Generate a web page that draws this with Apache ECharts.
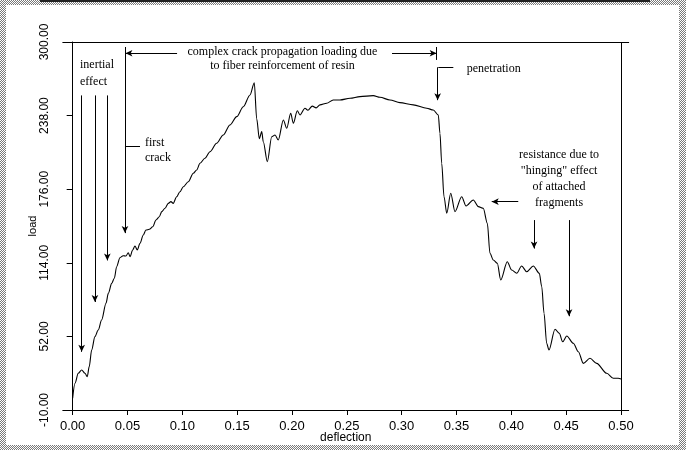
<!DOCTYPE html>
<html>
<head>
<meta charset="utf-8">
<script src="https://cdn.jsdelivr.net/npm/echarts@6/dist/echarts.min.js"></script>
<style>
  html, body { margin: 0; padding: 0; background: #fff; }
  #frame { position: absolute; left: 0; top: 0; width: 686px; height: 450px;
    background: repeating-conic-gradient(#7a7a7a 0 25%, #ffffff 0 50%) 0 0 / 2px 2px; }
  #inner { position: absolute; left: 6px; top: 5px; right: 7px; bottom: 5px; background: #fff; }
  #topline { position: absolute; left: 40px; top: 0; width: 610px; height: 2px; background: #222; }
  #chart { position: absolute; left: 0; top: 0; width: 686px; height: 450px; }
</style>
</head>
<body>
<div id="frame"><div id="inner"></div><div id="topline"></div></div>
<div id="chart"></div>
<script>
// ---- data ----
const deflection = [0,0.0021,0.0051,0.0082,0.0112,0.0133,0.0151,0.0173,0.0203,0.0233,0.0264,0.0304,0.0325,0.0356,0.0380,0.0401,0.0431,0.0461,0.0486,0.0507,0.0523,0.0547,0.0568,0.0589,0.0614,0.0644,0.0668,0.0699,0.0730,0.0760,0.0790,0.0812,0.0842,0.0872,0.0896,0.0917,0.0948,0.0978,0.1009,0.1054,0.1100,0.1131,0.1161,0.1206,0.1252,0.1313,0.1373,0.1434,0.1496,0.1556,0.1617,0.1656,0.1678,0.1702,0.1724,0.1738,0.1775,0.1815,0.1845,0.1875,0.1921,0.1952,0.1988,0.2012,0.2048,0.2073,0.2118,0.2145,0.2185,0.2220,0.2255,0.2316,0.2376,0.2437,0.2529,0.2620,0.2741,0.2802,0.2893,0.2984,0.3106,0.3228,0.3288,0.3334,0.3349,0.3365,0.3386,0.3411,0.3447,0.3486,0.3547,0.3587,0.3653,0.3699,0.3744,0.3781,0.3805,0.3835,0.3872,0.3903,0.3963,0.4003,0.4049,0.4094,0.4140,0.4200,0.4255,0.4277,0.4298,0.4322,0.4343,0.4398,0.4437,0.4468,0.4505,0.4565,0.4611,0.4656,0.4717,0.4778,0.4870,0.4930,0.4975,0.5000];
const loadValues = [0,12.5,20.9,23.7,20.9,18.1,26.5,40.5,51.8,57.4,65.8,79.9,88.3,96.7,101.0,110.7,118.3,120.0,119.7,122.5,119.2,124.8,128.2,124.8,130.4,137.4,141.6,142.2,144.4,150.1,152.8,157.1,159.9,164.1,165.5,164.1,169.7,173.9,178.1,182.3,189.4,192.2,197.8,202.1,207.6,214.7,221.7,230.1,237.1,245.5,255.4,265.7,235.3,218.5,224.5,216.0,199.2,220.2,221.7,217.5,234.3,227.3,240.0,231.5,242.1,238.5,244.2,242.5,246.0,244.5,247.0,248.4,251.2,251.2,252.6,254.0,254.8,253.4,251.2,248.9,247.0,244.2,242.7,238.5,223.1,197.8,169.7,155.7,172.6,157.1,169.7,161.9,166.9,161.3,159.9,147.3,122.0,116.4,113.6,99.5,114.9,107.9,105.2,111.3,106.5,111.3,105.2,93.9,71.5,46.2,40.5,58.0,54.6,47.5,52.3,46.2,39.1,29.3,33.6,29.3,20.9,16.7,16.7,16.1];
const xTicks = [0,0.05,0.10,0.15,0.20,0.25,0.30,0.35,0.40,0.45,0.50];
const yTicks = [-10,52,114,176,238,300];

// ---- annotations (data coordinates) ----
const arrowLines = [ // [x1,y1,x2,y2] arrow head at the second point
  [0.0082,255,0.0082,39],
  [0.0203,255,0.0203,81],
  [0.0316,255,0.0316,116],
  [0.0477,293,0.0477,139],
  [0.0952,290.5,0.0481,290.5],
  [0.2912,290.5,0.3319,290.5],
  [0.3328,278.7,0.3328,251],
  [0.4063,165.5,0.3821,165.5],
  [0.4207,150,0.4207,126],
  [0.4526,150,0.4526,69]
];
const plainLines = [
  [0.0477,212.4,0.0614,212.4],
  [0.3334,278.7,0.3471,278.7],
  [0.3319,295.8,0.3319,284.9],
  [0.0477,295.8,0.0477,284.9]
];
const notes = [
  {x:0.0067, y:273.7, text:'inertial\neffect', align:'left', lh:16.5},
  {x:0.0659, y:208.6, text:'first\ncrack', align:'left', lh:15},
  {x:0.1913, y:285.7, text:'complex crack propagation loading due\nto fiber reinforcement of resin', align:'center', lh:14},
  {x:0.3593, y:277.0, text:'penetration', align:'left', lh:14},
  {x:0.4435, y:184.8, text:'resistance due to\n"hinging" effect\nof attached\nfragments', align:'center', lh:15.9}
];

const black = '#000';
const mlData = [];
arrowLines.forEach(a => mlData.push([{coord:[a[0],a[1]], symbol:'none'},{coord:[a[2],a[3]], symbol:'arrow', symbolSize:[5,7]}]));
plainLines.forEach(a => mlData.push([{coord:[a[0],a[1]], symbol:'none'},{coord:[a[2],a[3]], symbol:'none'}]));

const chart = echarts.init(document.getElementById('chart'), null, {renderer:'canvas'});
const option = {
  animation: false,
  grid: { left: 62.8, right: 57.3, top: 42, bottom: 40, containLabel: false },
  xAxis: [{
    type: 'value', min: -0.009, max: 0.507,
    axisLine: { onZero: false, lineStyle: { color: black, width: 1 } },
    axisTick: { customValues: xTicks, length: 5, lineStyle: { color: black } },
    axisLabel: { customValues: xTicks, formatter: v => v.toFixed(2), color: black,
      fontFamily: 'Liberation Sans, Arial, sans-serif', fontSize: 13, margin: 10 },
    splitLine: { show: false },
    name: 'deflection', nameLocation: 'middle', nameGap: 22, nameMoveOverlap: false,
    nameTextStyle: { color: black, fontFamily: 'Liberation Sans, Arial, sans-serif', fontSize: 12 }
  }, {
    type: 'value', min: -0.009, max: 0.507, position: 'top',
    axisLine: { onZero: false, lineStyle: { color: black, width: 1 } },
    axisTick: { show: false }, axisLabel: { show: false }, splitLine: { show: false }
  }],
  yAxis: {
    type: 'value', min: -10, max: 300,
    axisLine: { show: true, onZero: true, lineStyle: { color: black, width: 1 } },
    axisTick: { show: true, customValues: yTicks, length: 6, lineStyle: { color: black } },
    axisLabel: { customValues: yTicks, rotate: 90, formatter: v => v.toFixed(2), color: black,
      fontFamily: 'Liberation Sans Narrow, Arial Narrow, Liberation Sans, Arial, sans-serif', fontSize: 12, margin: 12.5 },
    splitLine: { show: false },
    name: 'load', nameLocation: 'middle', nameRotate: 90, nameGap: 24, nameMoveOverlap: false,
    nameTextStyle: { color: black, fontFamily: 'Liberation Sans, Arial, sans-serif', fontSize: 11 }
  },
  series: [{
    type: 'line', xAxisIndex: 0,
    data: deflection.map((d, i) => [d, loadValues[i]]),
    showSymbol: false, smooth: 0.3, smoothMonotone: 'x',
    lineStyle: { color: black, width: 1.1 },
    silent: true,
    markLine: {
      silent: true, animation: false,
      label: { show: false },
      lineStyle: { color: black, width: 1, type: 'solid' },
      emphasis: { disabled: true },
      data: mlData
    }
  }, {
    type: 'line', xAxisIndex: 0, data: [], silent: true,
    markLine: {
      silent: true, animation: false, symbol: 'none', label: { show: false },
      lineStyle: { color: black, width: 1, type: 'solid' },
      data: [[{coord:[0.5,-10]},{coord:[0.5,300]}]]
    }
  }]
};
chart.setOption(option);

const graphics = notes.map(n => {
  const p = chart.convertToPixel({xAxisIndex:0, yAxisIndex:0}, [n.x, n.y]);
  return {
    type: 'text', x: p[0], y: p[1], silent: true,
    style: { text: n.text, fill: black, font: '12px "Liberation Serif", "Times New Roman", serif',
      align: n.align, verticalAlign: 'middle', lineHeight: n.lh }
  };
});
chart.setOption({ graphic: graphics });
</script>
</body>
</html>
